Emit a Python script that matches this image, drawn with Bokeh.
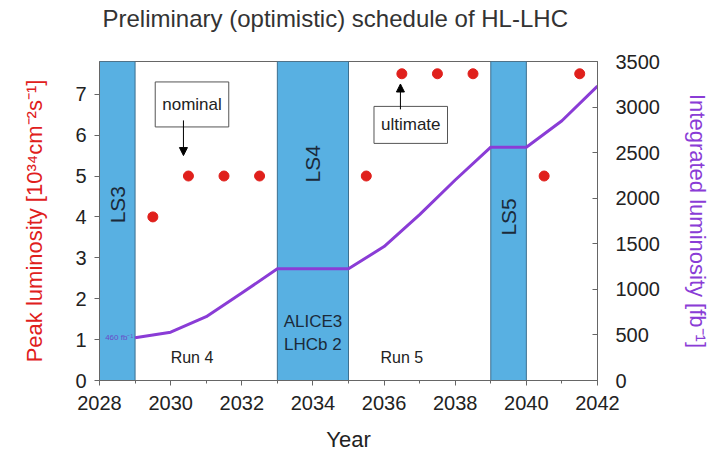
from math import pi
from bokeh.plotting import figure
from bokeh.models import (Range1d, LinearAxis, SingleIntervalTicker, Label, Arrow,
                          NormalHead, ColumnDataSource, Title)
from bokeh.core.properties import value
from bokeh.embed import file_html
from bokeh.resources import INLINE

# ---- data ----
shutdown_names = ["LS3", "LS4", "LS5"]
shutdown_start = [2028, 2033, 2039]
shutdown_end = [2029, 2035, 2040]

peak_years = [2029.5, 2030.5, 2031.5, 2032.5, 2035.5, 2036.5, 2037.5, 2038.5, 2040.5, 2041.5]
peak_lumi = [4.0, 5.0, 5.0, 5.0, 5.0, 7.5, 7.5, 7.5, 5.0, 7.5]

int_years = [2029, 2030, 2031, 2032, 2033, 2035, 2036, 2037, 2038, 2039, 2040, 2041, 2042]
int_lumi = [470, 530, 700, 960, 1225, 1225, 1470, 1820, 2200, 2560, 2560, 2850, 3230]

run_names = ["Run 4", "Run 5"]
run_centers = [2030.6, 2036.5]

TITLE = "Preliminary (optimistic) schedule of HL-LHC"

FONT = "Liberation Sans"
BLUE = "#58b0e2"
RED = "#e0201c"
PURPLE = "#8a3cd6"
DARK = "#222222"
FRAME = "#666666"

p = figure(frame_width=498, frame_height=319, output_backend="svg", toolbar_location=None,
           x_range=Range1d(2028, 2042), y_range=Range1d(0, 7.8),
           min_border_left=99, min_border_right=113, min_border_top=61, min_border_bottom=70)
p.extra_y_ranges = {"int": Range1d(0, 3500)}
p.xgrid.visible = False
p.ygrid.visible = False
p.outline_line_color = FRAME
p.outline_line_width = 1
p.background_fill_color = "white"
p.border_fill_color = "white"

# title (trailing blank line lifts it higher above the frame)
p.title = Title(text=TITLE + "\n ", align="left", offset=3, text_font=FONT,
                text_font_size="24px", text_font_style="normal", text_color="#333333",
                standoff=2, vertical_align="top")

# shutdown bands
src_ls = ColumnDataSource(dict(left=shutdown_start, right=shutdown_end,
                               names=shutdown_names,
                               mid=[(a + b) / 2 for a, b in zip(shutdown_start, shutdown_end)]))
p.quad(left="left", right="right", bottom=0, top=7.8, source=src_ls,
       fill_color=BLUE, line_color="#3d6f8f", line_width=1)

ls_label_y = [4.3, 5.3, 4.0]
p.text(x=src_ls.data["mid"], y=ls_label_y, text=shutdown_names, angle=pi / 2,
       text_align="center", text_baseline="middle", text_font=value(FONT),
       text_font_size="21px", text_color="#1b2a3a")

p.text(x=[2034, 2034], y=[1.45, 0.88], text=["ALICE3", "LHCb 2"],
       text_align="center", text_baseline="middle", text_font=value(FONT),
       text_font_size="17px", text_color="#1b2a3a")

p.text(x=run_centers, y=[0.56, 0.56], text=run_names, text_align="center",
       text_baseline="middle", text_font=value(FONT), text_font_size="16px",
       text_color=DARK)

# integrated luminosity line
p.line(int_years, int_lumi, y_range_name="int", line_color=PURPLE, line_width=3)
p.text(x=[int_years[0]], y=[int_lumi[0]], y_range_name="int", text=["460 fb\u207b\u00b9"],
       text_align="right", text_baseline="middle", text_font=value(FONT),
       text_font_size="8px", text_color="#6a4cc8", x_offset=-2)

# peak luminosity points
p.scatter(peak_years, peak_lumi, size=10, fill_color=RED, line_color=RED)

# annotations
nominal_x = peak_years[1]
p.add_layout(Label(x=nominal_x + 0.1, y=6.75, text="nominal", text_align="center",
                   text_baseline="middle", text_font=FONT, text_font_size="17px",
                   text_color=DARK, background_fill_color="white",
                   border_line_color="#555555", padding=(7, 13)))
p.add_layout(Arrow(x_start=nominal_x - 0.14, y_start=6.36, x_end=nominal_x - 0.14,
                   y_end=peak_lumi[1] + 0.5, line_color="black", line_width=1,
                   end=NormalHead(size=8, fill_color="black", line_color="black")))

ult_x = peak_years[5]
p.add_layout(Label(x=ult_x + 0.25, y=6.25, text="ultimate", text_align="center",
                   text_baseline="middle", text_font=FONT, text_font_size="17px",
                   text_color=DARK, background_fill_color="white",
                   border_line_color="#555555", padding=(7, 9)))
p.add_layout(Arrow(x_start=ult_x - 0.04, y_start=6.63, x_end=ult_x - 0.04,
                   y_end=peak_lumi[5] - 0.25, line_color="black", line_width=1,
                   end=NormalHead(size=8, fill_color="black", line_color="black")))

# axes
def style_axis(ax, label_color=DARK):
    ax.axis_line_color = FRAME
    ax.major_tick_line_color = FRAME
    ax.minor_tick_line_color = FRAME
    ax.major_label_text_font = FONT
    ax.major_label_text_font_size = "20px"
    ax.major_label_text_color = DARK
    ax.axis_label_text_font = FONT
    ax.axis_label_text_font_size = "22px"
    ax.axis_label_text_font_style = "normal"
    ax.axis_label_text_color = label_color

xa = p.xaxis[0]
xa.ticker = SingleIntervalTicker(interval=2, num_minor_ticks=2)
xa.axis_label = "Year"
style_axis(xa)
xa.major_tick_out = 5
xa.major_tick_in = 0
xa.minor_tick_out = 3
xa.minor_tick_in = 0
xa.major_label_standoff = 10
xa.axis_label_standoff = 14

ya = p.yaxis[0]
ya.ticker = SingleIntervalTicker(interval=1, num_minor_ticks=0)
ya.axis_label = "Peak luminosity [10\u00b3\u2074cm\u207b\u00b2s\u207b\u00b9]"
style_axis(ya, RED)
ya.major_tick_out = 5
ya.major_tick_in = 0
ya.minor_tick_line_color = None
ya.major_label_standoff = 8
ya.axis_label_standoff = 25

ra = LinearAxis(y_range_name="int", ticker=SingleIntervalTicker(interval=500, num_minor_ticks=0),
                axis_label="Integrated luminosity [fb\u207b\u00b9]")
style_axis(ra, PURPLE)
ra.major_tick_in = 5
ra.major_tick_out = 0
ra.minor_tick_line_color = None
ra.major_label_standoff = 18
ra.axis_label_standoff = 22
p.add_layout(ra, "right")

open("out.html", "w").write(file_html(p, INLINE))
